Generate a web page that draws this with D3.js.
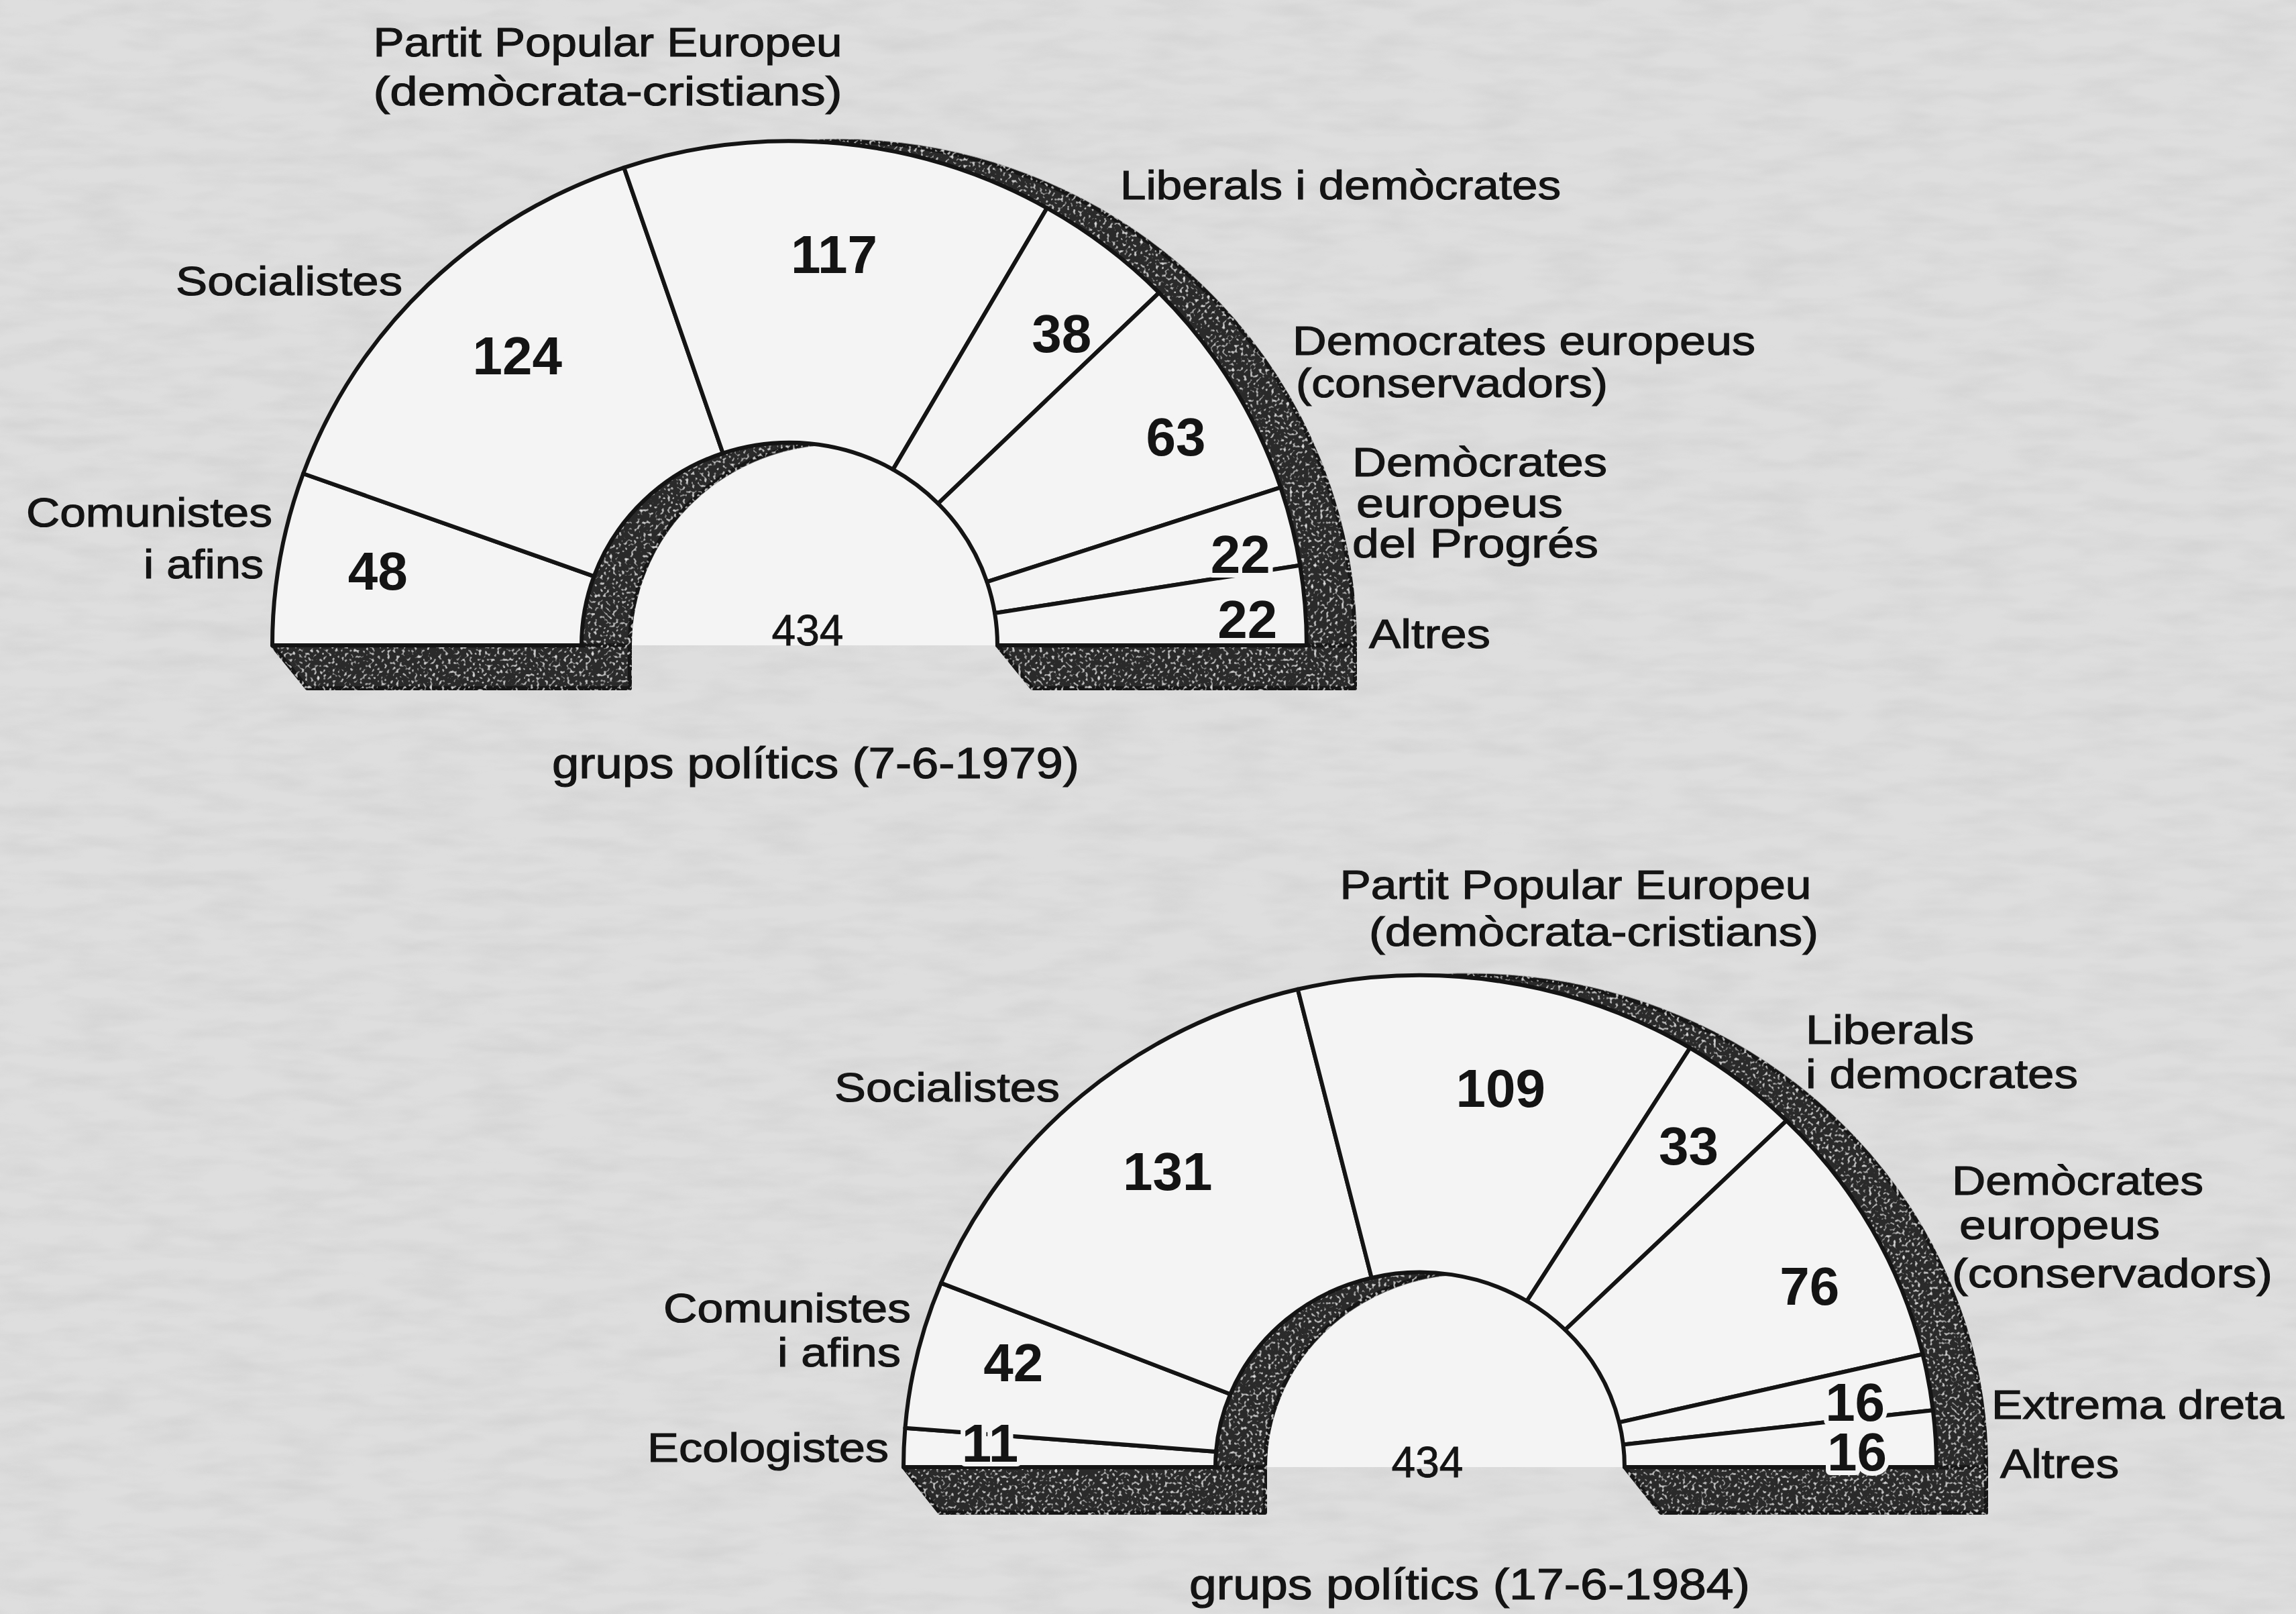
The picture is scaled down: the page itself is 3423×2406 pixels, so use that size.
<!DOCTYPE html>
<html><head><meta charset="utf-8">
<script src="https://cdn.jsdelivr.net/npm/d3@7"></script>
<style>html,body{margin:0;padding:0;background:#dadada;} svg{display:block}</style>
</head><body>
<svg id="c" width="3423" height="2406"></svg>
<script>
// ---------- DATA ----------
const groups1979 = ["Comunistes i afins", "Socialistes", "Partit Popular Europeu (demòcrata-cristians)", "Liberals i demòcrates", "Democrates europeus (conservadors)", "Demòcrates europeus del Progrés", "Altres"];
const labelLines1979 = [["Comunistes", "i afins"], ["Socialistes"], ["Partit Popular Europeu", "(demòcrata-cristians)"], ["Liberals i demòcrates"], ["Democrates europeus", "(conservadors)"], ["Demòcrates", "europeus", "del Progrés"], ["Altres"]];
const seats1979 = [48, 124, 117, 38, 63, 22, 22];
const total1979 = 434;
const title1979 = "grups polítics (7-6-1979)";

const groups1984 = ["Ecologistes", "Comunistes i afins", "Socialistes", "Partit Popular Europeu (demòcrata-cristians)", "Liberals i democrates", "Demòcrates europeus (conservadors)", "Extrema dreta", "Altres"];
const labelLines1984 = [["Ecologistes"], ["Comunistes", "i afins"], ["Socialistes"], ["Partit Popular Europeu", "(demòcrata-cristians)"], ["Liberals", "i democrates"], ["Demòcrates", "europeus", "(conservadors)"], ["Extrema dreta"], ["Altres"]];
const seats1984 = [11, 42, 131, 109, 33, 76, 16, 16];
const total1984 = 434;
const title1984 = "grups polítics (17-6-1984)";

// ---------- LAYOUT (positions / sizes) ----------
const layout1979 = {
  cx: 1177, cy: 962, ro: 771, ri: 310, ky: 0.975, dx: 72, h: 64, slant: 52,
  numR: [624, 593, 588, 618, 655, 686, 684],
  numNudge: [0.4, 1.2, 0.9, 3.3, 2.9, 2.2, 1.2],
  totalPos: [1204, 939],
  titlePos: [1216, 1160, 786],
  // per group: [x, anchor, baselines[], widths[], xOffsets[]]
  lab: [
    [406, "end", [785, 862], [367, 179], [0, -13]],
    [262, "start", [440], [338], [0]],
    [906, "middle", [84, 157], [699, 699], [0, 0]],
    [1670, "start", [297], [657], [0]],
    [1927, "start", [529, 592], [690, 465], [0, 5]],
    [2016, "start", [710, 771, 831], [380, 308, 367], [0, 6, 0]],
    [2041, "start", [966], [181], [0]]
  ]
};
const layout1984 = {
  cx: 2117, cy: 2187, ro: 770, ri: 305, ky: 0.952, dx: 74, h: 68, slant: 54,
  numR: [642, 626, 580, 578, 625, 641, 656, 652],
  numNudge: [1.0, 1.2, 0.4, 3.1, 1.5, 4.0, 1.35, 1.2],
  totalPos: [2128, 2179],
  titlePos: [2191, 2384, 836],
  lab: [
    [1325, "end", [2179], [360], [0]],
    [1358, "end", [1971, 2037], [369, 184], [0, -15]],
    [1244, "start", [1642], [336], [0]],
    [2349, "middle", [1340, 1410], [703, 670], [0, 27]],
    [2692, "start", [1556, 1622], [251, 406], [0, 0]],
    [2910, "start", [1781, 1847, 1919], [375, 299, 478], [0, 11, 0]],
    [2969, "start", [2115], [436], [0]],
    [2982, "start", [2203], [177], [0]]
  ]
};

const INK = "#141414", FACE = "#f4f4f4", DARK = "#2a2a2a";
const FONT = "'Liberation Sans', Arial, Helvetica, sans-serif";

const svg = d3.select("#c");
const defs = svg.append("defs");

// paper texture
const fp = defs.append("filter").attr("id", "paper").attr("filterUnits", "userSpaceOnUse")
  .attr("x", 0).attr("y", 0).attr("width", 3423).attr("height", 2406);
fp.append("feTurbulence").attr("type", "fractalNoise").attr("baseFrequency", "0.01 0.04").attr("numOctaves", 3).attr("seed", 4);
fp.append("feColorMatrix").attr("type", "matrix")
  .attr("values", "0 0 0 0 0.55  0 0 0 0 0.55  0 0 0 0 0.55  0 0 0 1.2 -0.45");

// speckle for dark bands
const fs = defs.append("filter").attr("id", "speckle").attr("filterUnits", "userSpaceOnUse")
  .attr("x", 0).attr("y", 0).attr("width", 3423).attr("height", 2406);
fs.append("feTurbulence").attr("type", "fractalNoise").attr("baseFrequency", "0.22").attr("numOctaves", 1).attr("seed", 9).attr("result", "n");
fs.append("feColorMatrix").attr("in", "n").attr("type", "matrix")
  .attr("values", "0 0 0 0 0.8  0 0 0 0 0.8  0 0 0 0 0.8  4 0 0 0 -2.25").attr("result", "spots");
fs.append("feComposite").attr("in", "spots").attr("in2", "SourceAlpha").attr("operator", "in").attr("result", "s2");
const fm = fs.append("feMerge");
fm.append("feMergeNode").attr("in", "SourceGraphic");
fm.append("feMergeNode").attr("in", "s2");

// background
svg.append("rect").attr("width", 3423).attr("height", 2406).attr("fill", "#dedede");
svg.append("rect").attr("width", 3423).attr("height", 2406).attr("fill", "#fff").attr("filter", "url(#paper)").attr("opacity", 0.55);

function drawChart(values, labelLines, total, title, L) {
  const g = svg.append("g");
  const half = { startAngle: -Math.PI / 2, endAngle: Math.PI / 2 };
  const pie = d3.pie().sort(null).startAngle(-Math.PI / 2).endAngle(Math.PI / 2);
  const arcs = pie(values);
  const arc = d3.arc().innerRadius(L.ri).outerRadius(L.ro);

  // hole (visible floor)
  g.append("path")
    .attr("transform", `translate(${L.cx},${L.cy}) scale(1,${L.ky})`)
    .attr("d", d3.arc().innerRadius(0).outerRadius(L.ri)(half))
    .attr("fill", FACE);

  // extruded depth (dark)
  const dark = g.append("g").attr("filter", "url(#speckle)");
  const base = [
    [[L.cx - L.ro, L.cy], [L.cx - L.ro + L.slant, L.cy + L.h], [L.cx - L.ri + L.dx, L.cy + L.h], [L.cx - L.ri + L.dx, L.cy]],
    [[L.cx + L.ri, L.cy], [L.cx + L.ri + L.slant, L.cy + L.h], [L.cx + L.ro + L.dx, L.cy + L.h], [L.cx + L.ro + L.dx, L.cy]]
  ];
  dark.selectAll("path.base").data(base).join("path").attr("class", "base")
    .attr("d", d => d3.line()(d) + "Z")
    .attr("fill", DARK).attr("stroke", INK).attr("stroke-width", 6).attr("stroke-linejoin", "round");
  dark.append("path")
    .attr("transform", `translate(${L.cx + L.dx},${L.cy}) scale(1,${L.ky})`)
    .attr("d", d3.arc().innerRadius(L.ri).outerRadius(L.ro)(half))
    .attr("fill", DARK).attr("stroke", INK).attr("stroke-width", 6).attr("vector-effect", "non-scaling-stroke");

  // front face wedges
  g.append("g").attr("transform", `translate(${L.cx},${L.cy}) scale(1,${L.ky})`)
    .selectAll("path").data(arcs).join("path")
    .attr("d", arc)
    .attr("fill", FACE).attr("stroke", INK).attr("stroke-width", 6)
    .attr("stroke-linejoin", "round").attr("vector-effect", "non-scaling-stroke");

  // seat numbers (face-coloured halo interrupts divider lines, as in the print)
  g.append("g").selectAll("text").data(arcs).join("text")
    .attr("x", (d, i) => { const a = (d.startAngle + d.endAngle) / 2 + L.numNudge[i] * Math.PI / 180; return L.cx + L.numR[i] * Math.sin(a); })
    .attr("y", (d, i) => { const a = (d.startAngle + d.endAngle) / 2 + L.numNudge[i] * Math.PI / 180; return L.cy - L.numR[i] * Math.cos(a); })
    .attr("dy", "0.36em")
    .attr("text-anchor", "middle")
    .attr("font-family", FONT).attr("font-weight", "bold").attr("font-size", 80).attr("fill", INK)
    .attr("stroke", FACE).attr("stroke-width", 14).attr("paint-order", "stroke").attr("stroke-linejoin", "round")
    .text(d => d.data);

  // total
  g.append("text").attr("x", L.totalPos[0]).attr("y", L.totalPos[1]).attr("dy", "0.36em")
    .attr("text-anchor", "middle").attr("font-family", FONT).attr("font-size", 64).attr("fill", INK)
    .attr("stroke", INK).attr("stroke-width", 0.8)
    .text(total);

  // group labels
  labelLines.forEach((lines, i) => {
    const [x, anchor, bls, ws, xo] = L.lab[i];
    lines.forEach((t, j) => {
      g.append("text")
        .attr("x", x + xo[j]).attr("y", bls[j])
        .attr("text-anchor", anchor)
        .attr("font-family", FONT).attr("font-size", 62).attr("fill", INK)
        .attr("stroke", INK).attr("stroke-width", 1.2)
        .attr("textLength", ws[j]).attr("lengthAdjust", "spacingAndGlyphs")
        .text(t);
    });
  });

  // title
  g.append("text").attr("x", L.titlePos[0]).attr("y", L.titlePos[1])
    .attr("text-anchor", "middle").attr("font-family", FONT).attr("font-size", 64).attr("fill", INK)
    .attr("stroke", INK).attr("stroke-width", 1.2)
    .attr("textLength", L.titlePos[2]).attr("lengthAdjust", "spacingAndGlyphs")
    .text(title);
}

drawChart(seats1979, labelLines1979, total1979, title1979, layout1979);
drawChart(seats1984, labelLines1984, total1984, title1984, layout1984);
</script>
</body></html>
